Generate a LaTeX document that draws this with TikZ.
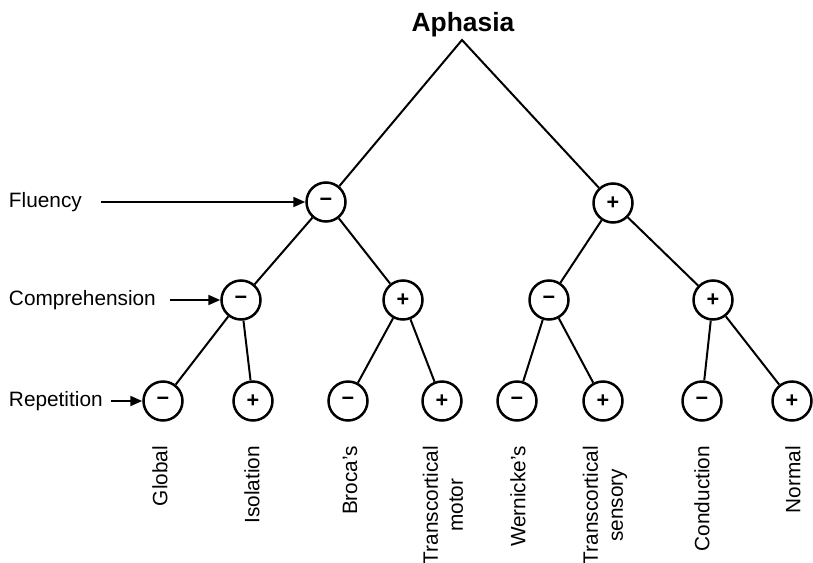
\documentclass[tikz,border=0pt]{standalone}
\usepackage{fontspec}
\setmainfont{Liberation Sans}
\usetikzlibrary{arrows.meta}
\begin{document}
\begin{tikzpicture}[x=0.5pt,y=-0.5pt,line width=1pt,
    signnode/.style={circle,draw,line width=1.25pt,minimum size=19.5pt,inner sep=0pt,
        font=\fontsize{10.8}{12}\selectfont\bfseries},
    lbl/.style={inner sep=0pt,font=\fontsize{10.4}{12.5}\selectfont},
    leaflbl/.style={lbl,rotate=90,anchor=east,align=center},
    ptr/.style={-{Triangle[length=6pt,width=5pt]}}]
    \useasboundingbox (0,0) rectangle (813,562);

    \node[font=\fontsize{13.2}{15}\selectfont\bfseries,anchor=base] (title) at (463,32) {Aphasia};
    \coordinate (top) at (462,40);

    % fluency
    \node[signnode] (f1) at (326,202) {−};
    \node[signnode] (f2) at (613,203) {+};
    % comprehension
    \foreach \n/\x/\s in {1/241/−,2/403/+,3/549/−,4/713/+}
        \node[signnode] (c\n) at (\x,300) {\s};
    % repetition
    \foreach \n/\x/\s in {1/163/−,2/253/+,3/348/−,4/442/+,5/517/−,6/603/+,7/702/−,8/792/+}
        \node[signnode] (r\n) at (\x,401) {\s};

    \draw (f1) -- (top) -- (f2);
    \draw (c1) -- (f1) -- (c2);
    \draw (c3) -- (f2) -- (c4);
    \foreach \p/\a/\b in {1/1/2,2/3/4,3/5/6,4/7/8}
        \draw (r\a) -- (c\p) -- (r\b);

    % row labels
    \node[lbl,anchor=west] (flu) at (8,202) {Fluency};
    \node[lbl,anchor=west] (com) at (8,300) {Comprehension};
    \node[lbl,anchor=west] (rep) at (8,401) {Repetition};
    \draw[ptr,shorten <=9pt] (flu) -- (f1);
    \draw[ptr,shorten <=6.5pt] (com) -- (c1);
    \draw[ptr,shorten <=3.5pt] (rep) -- (r1);

    % aphasia types
    \foreach \n/\x/\t in {1/160/Global,2/252/Isolation,3/350/Broca's,
                          4/443/{Transcortical\\motor},5/518/Wernicke's,
                          6/605/{Transcortical\\sensory},7/702/Conduction,8/793/Normal}
        \node[leaflbl] (l\n) at (\x,445) {\t};
\end{tikzpicture}
\end{document}
